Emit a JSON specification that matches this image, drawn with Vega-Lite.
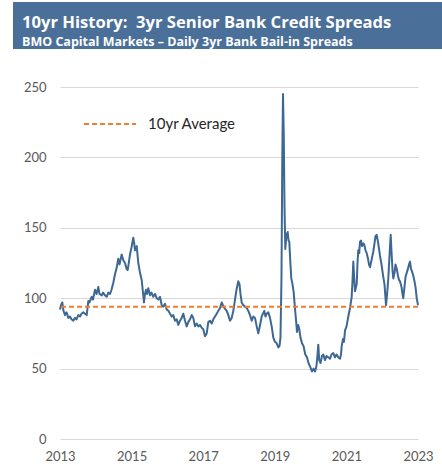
{
  "$schema": "https://vega.github.io/schema/vega-lite/v6.json",
  "background": "white",
  "padding": {"left": 13, "top": 2, "right": 0, "bottom": 0},
  "spacing": 38,
  "bounds": "flush",
  "center": true,
  "resolve": {"legend": {"strokeDash": "independent"}},
  "config": {"view": {"stroke": null}, "font": "Lato"},
  "vconcat": [
    {
      "width": 452,
      "height": 47,
      "view": {"fill": "#4A6F98", "stroke": null},
      "data": {"values": [{"band": "header"}]},
      "mark": {"type": "rect", "color": "#4A6F98"},
      "title": {
        "text": "10yr History:\u00a0 3yr Senior Bank Credit Spreads",
        "subtitle": "BMO Capital Markets – Daily 3yr Bank Bail-in Spreads",
        "anchor": "start",
        "frame": "group",
        "orient": "top",
        "offset": -46,
        "dx": 9,
        "color": "white",
        "subtitleColor": "white",
        "font": "Open Sans",
        "fontSize": 16.6,
        "fontWeight": "bold",
        "subtitleFont": "Open Sans",
        "subtitleFontSize": 12.5,
        "subtitleFontWeight": "bold",
        "subtitlePadding": 4
      }
    },
    {
      "width": 358,
      "height": 352,
      "layer": [
        {
          "data": {"values": [
            {"t":2013.000,"v":92},{"t":2013.028,"v":95},{"t":2013.064,"v":97},{"t":2013.098,"v":91},{"t":2013.140,"v":88},{"t":2013.182,"v":90},{"t":2013.232,"v":86},{"t":2013.279,"v":87},{"t":2013.321,"v":85},{"t":2013.372,"v":84},{"t":2013.419,"v":86},{"t":2013.461,"v":85},{"t":2013.511,"v":88},{"t":2013.559,"v":87},{"t":2013.601,"v":89},{"t":2013.651,"v":90},{"t":2013.698,"v":89},{"t":2013.746,"v":88},{"t":2013.791,"v":98},{"t":2013.824,"v":97},{"t":2013.885,"v":101},{"t":2013.922,"v":99},{"t":2013.978,"v":106},{"t":2014.020,"v":103},{"t":2014.070,"v":108},{"t":2014.103,"v":103},{"t":2014.165,"v":102},{"t":2014.201,"v":104},{"t":2014.257,"v":102},{"t":2014.304,"v":101},{"t":2014.349,"v":104},{"t":2014.397,"v":103},{"t":2014.439,"v":106},{"t":2014.489,"v":111},{"t":2014.536,"v":117},{"t":2014.578,"v":121},{"t":2014.628,"v":128},{"t":2014.662,"v":124},{"t":2014.723,"v":131},{"t":2014.768,"v":127},{"t":2014.816,"v":125},{"t":2014.858,"v":121},{"t":2014.891,"v":120},{"t":2014.927,"v":126},{"t":2014.955,"v":131},{"t":2014.997,"v":136},{"t":2015.047,"v":143},{"t":2015.073,"v":139},{"t":2015.095,"v":134},{"t":2015.142,"v":137},{"t":2015.187,"v":125},{"t":2015.235,"v":118},{"t":2015.282,"v":113},{"t":2015.318,"v":104},{"t":2015.346,"v":97},{"t":2015.374,"v":103},{"t":2015.402,"v":106},{"t":2015.430,"v":103},{"t":2015.466,"v":107},{"t":2015.514,"v":102},{"t":2015.556,"v":104},{"t":2015.606,"v":101},{"t":2015.654,"v":103},{"t":2015.701,"v":100},{"t":2015.746,"v":99},{"t":2015.793,"v":101},{"t":2015.841,"v":95},{"t":2015.885,"v":94},{"t":2015.933,"v":96},{"t":2015.980,"v":92},{"t":2016.031,"v":91},{"t":2016.073,"v":89},{"t":2016.120,"v":87},{"t":2016.165,"v":88},{"t":2016.212,"v":84},{"t":2016.260,"v":85},{"t":2016.304,"v":81},{"t":2016.352,"v":84},{"t":2016.399,"v":86},{"t":2016.444,"v":89},{"t":2016.492,"v":84},{"t":2016.539,"v":80},{"t":2016.584,"v":83},{"t":2016.631,"v":85},{"t":2016.679,"v":88},{"t":2016.723,"v":86},{"t":2016.771,"v":80},{"t":2016.818,"v":82},{"t":2016.863,"v":80},{"t":2016.911,"v":81},{"t":2016.958,"v":79},{"t":2017.003,"v":78},{"t":2017.050,"v":73},{"t":2017.098,"v":75},{"t":2017.142,"v":83},{"t":2017.190,"v":84},{"t":2017.237,"v":82},{"t":2017.282,"v":85},{"t":2017.330,"v":87},{"t":2017.377,"v":89},{"t":2017.422,"v":91},{"t":2017.469,"v":93},{"t":2017.517,"v":97},{"t":2017.553,"v":95},{"t":2017.595,"v":93},{"t":2017.656,"v":91},{"t":2017.701,"v":88},{"t":2017.749,"v":84},{"t":2017.796,"v":86},{"t":2017.841,"v":91},{"t":2017.888,"v":99},{"t":2017.930,"v":106},{"t":2017.980,"v":112},{"t":2018.014,"v":110},{"t":2018.042,"v":103},{"t":2018.075,"v":97},{"t":2018.120,"v":95},{"t":2018.170,"v":94},{"t":2018.215,"v":93},{"t":2018.260,"v":91},{"t":2018.307,"v":88},{"t":2018.355,"v":84},{"t":2018.399,"v":87},{"t":2018.447,"v":86},{"t":2018.494,"v":80},{"t":2018.539,"v":75},{"t":2018.573,"v":79},{"t":2018.634,"v":87},{"t":2018.670,"v":89},{"t":2018.707,"v":91},{"t":2018.740,"v":87},{"t":2018.774,"v":89},{"t":2018.818,"v":90},{"t":2018.866,"v":86},{"t":2018.913,"v":80},{"t":2018.958,"v":72},{"t":2019.006,"v":69},{"t":2019.053,"v":68},{"t":2019.098,"v":65},{"t":2019.131,"v":66},{"t":2019.159,"v":72},{"t":2019.187,"v":115},{"t":2019.209,"v":200},{"t":2019.229,"v":245},{"t":2019.251,"v":215},{"t":2019.271,"v":165},{"t":2019.293,"v":135},{"t":2019.327,"v":145},{"t":2019.360,"v":147},{"t":2019.383,"v":141},{"t":2019.405,"v":140},{"t":2019.433,"v":126},{"t":2019.461,"v":114},{"t":2019.494,"v":110},{"t":2019.528,"v":104},{"t":2019.550,"v":97},{"t":2019.573,"v":90},{"t":2019.598,"v":83},{"t":2019.620,"v":76},{"t":2019.654,"v":81},{"t":2019.684,"v":78},{"t":2019.718,"v":72},{"t":2019.760,"v":68},{"t":2019.802,"v":66},{"t":2019.852,"v":60},{"t":2019.899,"v":58},{"t":2019.941,"v":54},{"t":2019.992,"v":51},{"t":2020.039,"v":48},{"t":2020.081,"v":50},{"t":2020.123,"v":48},{"t":2020.165,"v":52},{"t":2020.193,"v":60},{"t":2020.215,"v":67},{"t":2020.240,"v":56},{"t":2020.277,"v":54},{"t":2020.318,"v":59},{"t":2020.355,"v":60},{"t":2020.402,"v":56},{"t":2020.444,"v":59},{"t":2020.494,"v":58},{"t":2020.542,"v":57},{"t":2020.584,"v":60},{"t":2020.634,"v":61},{"t":2020.682,"v":58},{"t":2020.723,"v":60},{"t":2020.774,"v":58},{"t":2020.821,"v":57},{"t":2020.849,"v":60},{"t":2020.869,"v":66},{"t":2020.905,"v":71},{"t":2020.933,"v":69},{"t":2020.961,"v":77},{"t":2021.003,"v":80},{"t":2021.053,"v":87},{"t":2021.101,"v":93},{"t":2021.148,"v":101},{"t":2021.170,"v":112},{"t":2021.193,"v":126},{"t":2021.218,"v":114},{"t":2021.240,"v":105},{"t":2021.288,"v":110},{"t":2021.310,"v":125},{"t":2021.332,"v":134},{"t":2021.358,"v":132},{"t":2021.380,"v":140},{"t":2021.408,"v":141},{"t":2021.436,"v":137},{"t":2021.472,"v":139},{"t":2021.500,"v":138},{"t":2021.534,"v":134},{"t":2021.567,"v":132},{"t":2021.603,"v":128},{"t":2021.631,"v":124},{"t":2021.659,"v":122},{"t":2021.701,"v":127},{"t":2021.751,"v":133},{"t":2021.785,"v":139},{"t":2021.813,"v":144},{"t":2021.846,"v":145},{"t":2021.883,"v":140},{"t":2021.911,"v":135},{"t":2021.939,"v":130},{"t":2021.980,"v":124},{"t":2022.031,"v":115},{"t":2022.064,"v":110},{"t":2022.092,"v":100},{"t":2022.106,"v":95},{"t":2022.134,"v":102},{"t":2022.170,"v":114},{"t":2022.204,"v":130},{"t":2022.237,"v":145},{"t":2022.260,"v":133},{"t":2022.288,"v":120},{"t":2022.310,"v":114},{"t":2022.344,"v":118},{"t":2022.372,"v":124},{"t":2022.405,"v":121},{"t":2022.441,"v":116},{"t":2022.469,"v":113},{"t":2022.497,"v":112},{"t":2022.539,"v":108},{"t":2022.567,"v":103},{"t":2022.589,"v":100},{"t":2022.623,"v":108},{"t":2022.651,"v":115},{"t":2022.684,"v":118},{"t":2022.721,"v":121},{"t":2022.749,"v":124},{"t":2022.777,"v":126},{"t":2022.804,"v":121},{"t":2022.832,"v":119},{"t":2022.869,"v":116},{"t":2022.902,"v":112},{"t":2022.930,"v":108},{"t":2022.964,"v":100},{"t":2022.986,"v":97},{"t":2023.000,"v":95}
          ]},
          "mark": {"type": "line", "color": "#3D6893", "strokeWidth": 2, "strokeJoin": "round"},
          "encoding": {
            "x": {
              "field": "t", "type": "quantitative",
              "scale": {"domain": [2013, 2023], "nice": false, "zero": false},
              "axis": {
                "title": null, "values": [2013, 2015, 2017, 2019, 2021, 2023], "format": "d",
                "grid": false, "ticks": false, "domain": false, "labelFlush": false,
                "labelFontSize": 13, "labelColor": "#595959", "labelPadding": 11, "labelFont": "Lato"
              }
            },
            "y": {
              "field": "v", "type": "quantitative",
              "scale": {"domain": [0, 250], "nice": false},
              "axis": {
                "title": null, "values": [0, 50, 100, 150, 200, 250],
                "grid": true, "gridColor": "#D9D9D9", "gridWidth": 1,
                "ticks": false, "domain": false, "labelFlush": false,
                "labelFontSize": 13, "labelColor": "#595959", "labelPadding": 14, "labelFont": "Lato"
              }
            }
          }
        },
        {
          "data": {"values": [{"avg": 94, "series": "10yr Average"}]},
          "mark": {"type": "rule", "color": "#ED7D31", "strokeWidth": 2},
          "encoding": {
            "y": {"field": "avg", "type": "quantitative"},
            "strokeDash": {
              "field": "series", "type": "nominal",
              "scale": {"domain": ["10yr Average"], "range": [[5, 3]]},
              "legend": {
                "orient": "none", "legendX": 23, "legendY": 10, "title": null,
                "symbolType": "stroke", "symbolSize": 2704,
                "symbolStrokeColor": "#ED7D31", "symbolStrokeWidth": 2,
                "labelFontSize": 15, "labelColor": "#262626", "labelFont": "Lato",
                "labelOffset": 11, "padding": 0
              }
            }
          }
        }
      ]
    }
  ]
}
